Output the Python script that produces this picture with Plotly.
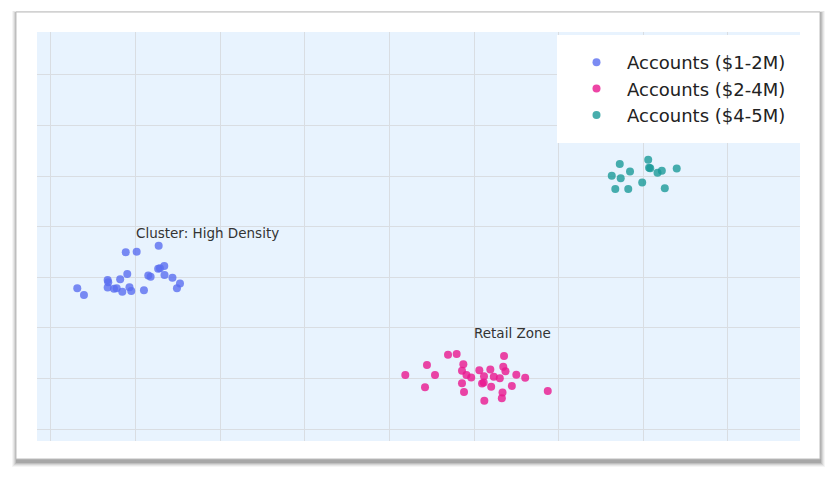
import plotly.graph_objects as go

# ---- data ----
series_names = ["Accounts ($1-2M)", "Accounts ($2-4M)", "Accounts ($4-5M)"]

blue_x = [0.311, 0.390, 0.670, 0.677, 0.670, 0.745, 0.777, 0.843, 0.818, 0.902,
          0.884, 1.013, 0.928, 0.949, 1.099, 1.150, 1.178, 1.273, 1.267, 1.288,
          1.339, 1.342, 1.436, 1.525, 1.489]
blue_y = [2.781, 2.648, 2.945, 2.899, 2.796, 2.773, 2.781, 2.711, 2.960, 3.063,
          3.492, 3.504, 2.802, 2.727, 2.741, 3.034, 3.010, 3.621, 3.166, 3.178,
          3.221, 3.043, 2.988, 2.875, 2.781]

pink_x = [4.188, 4.444, 4.421, 4.539, 4.693, 4.795, 4.874, 4.858, 4.911, 4.967,
          4.858, 4.882, 5.063, 5.118, 5.095, 5.115, 5.122, 5.193, 5.234, 5.203,
          5.305, 5.355, 5.346, 5.372, 5.337, 5.329, 5.447, 5.500, 5.605, 5.872]
pink_y = [1.067, 1.265, 0.824, 1.067, 1.468, 1.482, 1.281, 1.152, 1.067, 1.018,
          0.903, 0.731, 1.160, 1.043, 0.899, 0.919, 0.559, 1.176, 1.034, 0.836,
          1.004, 1.443, 1.229, 1.140, 0.721, 0.607, 0.850, 1.071, 1.012, 0.751]

teal_x = [6.628, 6.723, 6.734, 6.670, 6.823, 6.844, 6.988, 7.059, 7.069, 7.083,
          7.169, 7.220, 7.255, 7.396]
teal_y = [5.006, 5.237, 4.957, 4.743, 4.743, 5.089, 4.872, 5.320, 5.164, 5.152,
          5.065, 5.105, 4.757, 5.148]

colors = ["#5a6ef0", "#e8168e", "#1a9a99"]

annot_text = ["Cluster: High Density", "Retail Zone"]
annot_x = [0.98, 4.98]
annot_y = [3.87, 1.90]

# ---- layout geometry (pixels) ----
W, H = 837, 482
PL, PR, PT, PB = 37, 800, 32, 441  # plot area edges


def px_x(p):
    return (p - PL) / (PR - PL)


def px_y(p):
    return (PB - p) / (PB - PT)


fig = go.Figure()
for name, xs, ys, c in zip(series_names, [blue_x, pink_x, teal_x],
                           [blue_y, pink_y, teal_y], colors):
    fig.add_trace(go.Scatter(
        x=xs, y=ys, mode="markers", name=name,
        marker=dict(size=8, color=c, opacity=0.8, line=dict(width=0)),
    ))

shapes = []
# shadow layers
for dx0, dy0, dx1, dy1, a in [
        (-4, -1, 5, 7, 0.05), (-3, -1, 4, 6, 0.07), (-2, 0, 3, 5, 0.10),
        (-1, 0, 2, 4, 0.14), (0, 0, 1, 3, 0.18)]:
    shapes.append(dict(type="rect", xref="paper", yref="paper", layer="below",
                       x0=px_x(16 + dx0), x1=px_x(820 + dx1),
                       y0=px_y(460 + dy1), y1=px_y(12 + dy0),
                       fillcolor=f"rgba(60,60,60,{a})", line=dict(width=0)))
# card
shapes.append(dict(type="rect", xref="paper", yref="paper", layer="below",
                   x0=px_x(16), x1=px_x(820), y0=px_y(459), y1=px_y(12),
                   fillcolor="white", line=dict(color="#bdbdbd", width=1)))
# plot area background
shapes.append(dict(type="rect", xref="paper", yref="paper", layer="below",
                   x0=0, x1=1, y0=0, y1=1,
                   fillcolor="#e8f3fe", line=dict(width=0)))

annotations = [dict(x=ax, y=ay, text=t, showarrow=False, xanchor="left",
                    yanchor="middle", xref="x", yref="y",
                    font=dict(family="DejaVu Sans", size=13.5, color="#333333"))
               for t, ax, ay in zip(annot_text, annot_x, annot_y)]

axis_common = dict(showticklabels=False, showline=False, zeroline=False,
                   showgrid=True, gridcolor="#d9dde2", gridwidth=1,
                   ticks="", tick0=0, dtick=1)

fig.update_layout(
    width=W, height=H,
    margin=dict(l=PL, r=W - PR, t=PT, b=H - PB, pad=0),
    paper_bgcolor="white",
    plot_bgcolor="rgba(0,0,0,0)",
    font=dict(family="DejaVu Sans", color="#222222"),
    xaxis=dict(range=[-0.165, 8.853], **axis_common),
    yaxis=dict(range=[-0.237, 7.846], **axis_common),
    shapes=shapes,
    annotations=annotations,
    showlegend=True,
    legend=dict(x=1, xanchor="right", y=1 - 3 / (PB - PT), yanchor="top",
                bgcolor="white", bordercolor="white", borderwidth=9,
                itemwidth=51,
                font=dict(family="DejaVu Sans", size=18, color="#222222")),
)

fig.write_html("out.html")
